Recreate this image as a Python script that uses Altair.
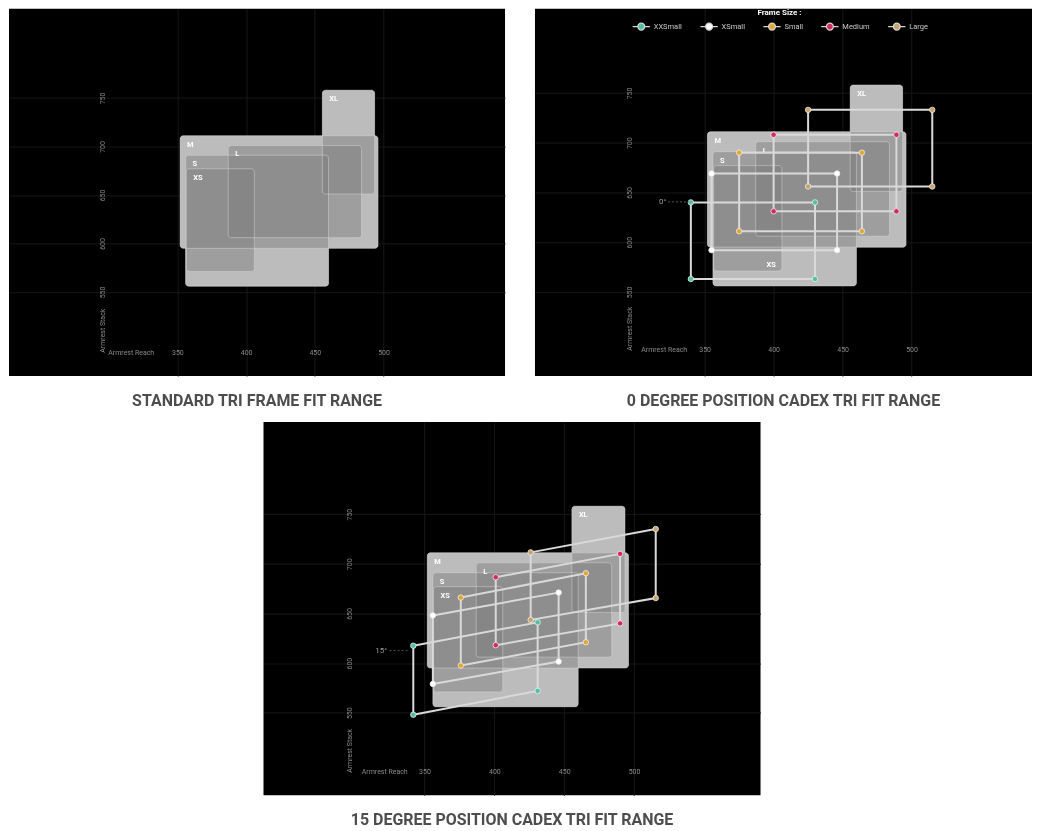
import altair as alt
import pandas as pd

# ---------------- data ----------------
fit_labels = ["XL", "M", "L", "S", "XS"]
fit_reach_min = [455.5, 352, 387, 356, 356.5]
fit_reach_max = [493.5, 496, 484, 460, 406]
fit_stack_min = [651, 595, 606, 556, 571]
fit_stack_max = [758, 711, 701, 691, 677]

frame_sizes = ["XXSmall", "XSmall", "Small", "Medium", "Large"]
frame_colors = ["#4fbfa5", "#ffffff", "#e2a834", "#d42a5b", "#c9a46a"]

# 0 degree position: rectangular windows
deg0_reach_min = [340, 355, 375, 400, 425]
deg0_reach_max = [430, 446, 464, 489, 515]
deg0_stack_min = [563, 592, 611, 631, 656]
deg0_stack_max = [640, 669, 690, 708, 733]

# 15 degree position: parallelograms
deg15_reach_left = [342, 356, 376, 401, 426]
deg15_reach_right = [431, 446, 465.5, 490, 515.5]
deg15_left_stack_low = [548, 579, 597.5, 618, 643.5]
deg15_left_stack_high = [617.5, 648, 666, 686.5, 711.5]
deg15_right_stack_low = [572, 601.5, 621, 640, 665.5]
deg15_right_stack_high = [641, 671, 690.5, 710, 735]

angle_text = ["0°", "15°"]
angle_text_reach = [319.6, 319]
angle_text_stack = [640.5, 612.6]
angle_rule_from = [323.5, 325]
angle_rule_to = [338.5, 339]

x_ticks = [350, 400, 450, 500]
y_ticks = [550, 600, 650, 700, 750]

captions = ["STANDARD TRI FRAME FIT RANGE",
            "0 DEGREE POSITION CADEX TRI FIT RANGE",
            "15 DEGREE POSITION CADEX TRI FIT RANGE"]

# ---------------- tables ----------------
fit_df = pd.DataFrame({"name": fit_labels, "rmin": fit_reach_min, "rmax": fit_reach_max,
                       "smin": fit_stack_min, "smax": fit_stack_max})


def outline_rows(size, corners):
    rows = []
    for k, (r, s) in enumerate(corners + [corners[0]]):
        rows.append({"size": size, "k": k, "reach": r, "stack": s})
    return rows


rows0, rows15 = [], []
for i, sz in enumerate(frame_sizes):
    rows0 += outline_rows(sz, [(deg0_reach_min[i], deg0_stack_max[i]),
                               (deg0_reach_max[i], deg0_stack_max[i]),
                               (deg0_reach_max[i], deg0_stack_min[i]),
                               (deg0_reach_min[i], deg0_stack_min[i])])
    rows15 += outline_rows(sz, [(deg15_reach_left[i], deg15_left_stack_high[i]),
                                (deg15_reach_right[i], deg15_right_stack_high[i]),
                                (deg15_reach_right[i], deg15_right_stack_low[i]),
                                (deg15_reach_left[i], deg15_left_stack_low[i])])
lines0 = pd.DataFrame(rows0)
lines15 = pd.DataFrame(rows15)

anno_df = pd.DataFrame({"t": angle_text, "r": angle_text_reach, "s": angle_text_stack,
                        "r1": angle_rule_from, "r2": angle_rule_to})

LEGEND_PATH = ("M-1,0L-0.4,0M0.4,0L1,0M0.4,0A0.4,0.4,0,1,1,-0.4,0"
               "A0.4,0.4,0,1,1,0.4,0Z")

AX_GREY = "#8a8a8a"
GRID = "#171717"


def panel(xdom, ydom, w, h, x_off, x_title_x, y_off, y_title_y, caption,
          lines=None, anno_idx=None, xs_bottom=False):
    xs = alt.Scale(domain=xdom, nice=False, zero=False)
    ys = alt.Scale(domain=ydom, nice=False, zero=False)
    xa = alt.Axis(values=x_ticks, title="Armrest Reach", orient="bottom", offset=x_off,
                  ticks=False, domain=False, grid=True, gridColor=GRID,
                  labelPadding=0, labelBaseline="middle", labelColor=AX_GREY,
                  labelFontSize=7, labelFont="Roboto", labelOverlap=False, labelFlush=False,
                  titleX=x_title_x, titleY=0, titleAlign="center", titleBaseline="middle",
                  titleColor=AX_GREY, titleFontSize=7, titleFontWeight="normal",
                  titleFont="Roboto")
    ya = alt.Axis(values=y_ticks, title="Armrest Stack", orient="left", offset=y_off,
                  ticks=False, domain=False, grid=True, gridColor=GRID,
                  labelPadding=0, labelAngle=270, labelAlign="center", labelBaseline="middle",
                  labelColor=AX_GREY, labelFontSize=7, labelFont="Roboto",
                  labelOverlap=False, labelFlush=False,
                  titleAngle=270, titleX=0, titleY=y_title_y, titleAlign="center",
                  titleBaseline="middle", titleColor=AX_GREY, titleFontSize=7,
                  titleFontWeight="normal", titleFont="Roboto")

    base = alt.Chart(fit_df)
    enc = dict(x=alt.X("rmin:Q", scale=xs, axis=xa), x2="rmax:Q",
               y=alt.Y("smin:Q", scale=ys, axis=ya), y2="smax:Q")
    under = base.mark_rect(fill="#f8f8f8", cornerRadius=3).encode(**enc)
    shade = base.mark_rect(fill="#404040", cornerRadius=3, blend="exclusion").encode(**enc)
    edge = base.mark_rect(fillOpacity=0, stroke="#dcdcdc", strokeOpacity=0.45,
                          strokeWidth=1, cornerRadius=3).encode(**enc)
    layers = [under, shade, edge]

    lab_kw = dict(color="white", fontSize=7.5, fontWeight="bold", font="Roboto",
                  baseline="middle")
    top_lab = base.mark_text(align="left", dx=7, dy=9, **lab_kw).encode(
        x=alt.X("rmin:Q", scale=xs, axis=xa), y=alt.Y("smax:Q", scale=ys, axis=ya),
        text="name:N")
    if xs_bottom:
        top_lab = top_lab.transform_filter(alt.datum.name != "XS")
        bot_lab = base.mark_text(align="right", dx=-6, dy=-6, **lab_kw).encode(
            x=alt.X("rmax:Q", scale=xs, axis=xa), y=alt.Y("smin:Q", scale=ys, axis=ya),
            text="name:N").transform_filter(alt.datum.name == "XS")
        layers += [top_lab, bot_lab]
    else:
        layers.append(top_lab)

    if lines is not None:
        lb = alt.Chart(lines)
        ln = lb.mark_line(color="#d9d9d9", strokeWidth=2).encode(
            x=alt.X("reach:Q", scale=xs, axis=xa), y=alt.Y("stack:Q", scale=ys, axis=ya),
            detail="size:N", order=alt.Order("k:Q"))
        pts = lb.mark_point(filled=True, size=30, stroke="#eeeeee", strokeWidth=0.8,
                            opacity=1).encode(
            x=alt.X("reach:Q", scale=xs, axis=xa), y=alt.Y("stack:Q", scale=ys, axis=ya),
            color=alt.Color("size:N", scale=alt.Scale(domain=frame_sizes, range=frame_colors),
                            legend=alt.Legend(
                                title="Frame Size :", orient="none", legendX=624, legendY=0,
                                direction="horizontal", titleAnchor="middle",
                                titleColor="white", titleFontSize=8, titleFontWeight="bold",
                                titleFont="Roboto", titlePadding=0,
                                labelColor="#c8c8c8", labelFontSize=7.5, labelFont="Roboto",
                                labelOffset=3, columnPadding=15, symbolType=LEGEND_PATH,
                                symbolSize=300, symbolStrokeColor="#d8d8d8",
                                symbolStrokeWidth=1.2, symbolOpacity=1))
        ).transform_filter(alt.datum.k < 4)
        layers += [ln, pts]

    if anno_idx is not None:
        ab = alt.Chart(anno_df.iloc[[anno_idx]])
        rl = ab.mark_rule(color="#555555", strokeWidth=1, strokeDash=[2, 2]).encode(
            x=alt.X("r1:Q", scale=xs, axis=xa), x2="r2:Q",
            y=alt.Y("s:Q", scale=ys, axis=ya))
        tx = ab.mark_text(color="#9a9a9a", fontSize=8, font="Roboto", baseline="middle").encode(
            x=alt.X("r:Q", scale=xs, axis=xa), y=alt.Y("s:Q", scale=ys, axis=ya), text="t:N")
        layers += [rl, tx]

    return alt.layer(*layers).properties(
        width=w, height=h,
        title=alt.TitleParams(text=caption, orient="bottom", anchor="middle", font="Roboto",
                              fontSize=16, fontWeight="bold", color="#4d4d4d", offset=17))


p1 = panel([227.5, 588.4], [463.3, 841.9], 497, 368, -24, 122, -94, 322, captions[0])
p2 = panel([227.0, 587.3], [465.4, 834.6], 498, 368, -27, 129, -95, 320, captions[1],
           lines=lines0, anno_idx=0, xs_bottom=True)
p3 = panel([234.8, 590.5], [466.9, 842.8], 498, 374, -24, 121, -86, 329, captions[2],
           lines=lines15, anno_idx=1)

spacer = alt.Chart(pd.DataFrame({"v": [0]})).mark_point(opacity=0).encode(
    x=alt.X("v:Q", axis=None), y=alt.Y("v:Q", axis=None)
).properties(width=254, height=374, view=alt.ViewBackground(fill="white", stroke="white"))

row1 = alt.hconcat(p1, p2, spacing=30)
row2 = alt.hconcat(spacer, p3, spacing=0)

chart = alt.vconcat(row1, row2, spacing=12).properties(
    padding=0, background="white"
).resolve_scale(color="shared").configure_view(fill="black", stroke=None)

chart.save("out.html", embed_options={"renderer": "svg", "actions": False})
